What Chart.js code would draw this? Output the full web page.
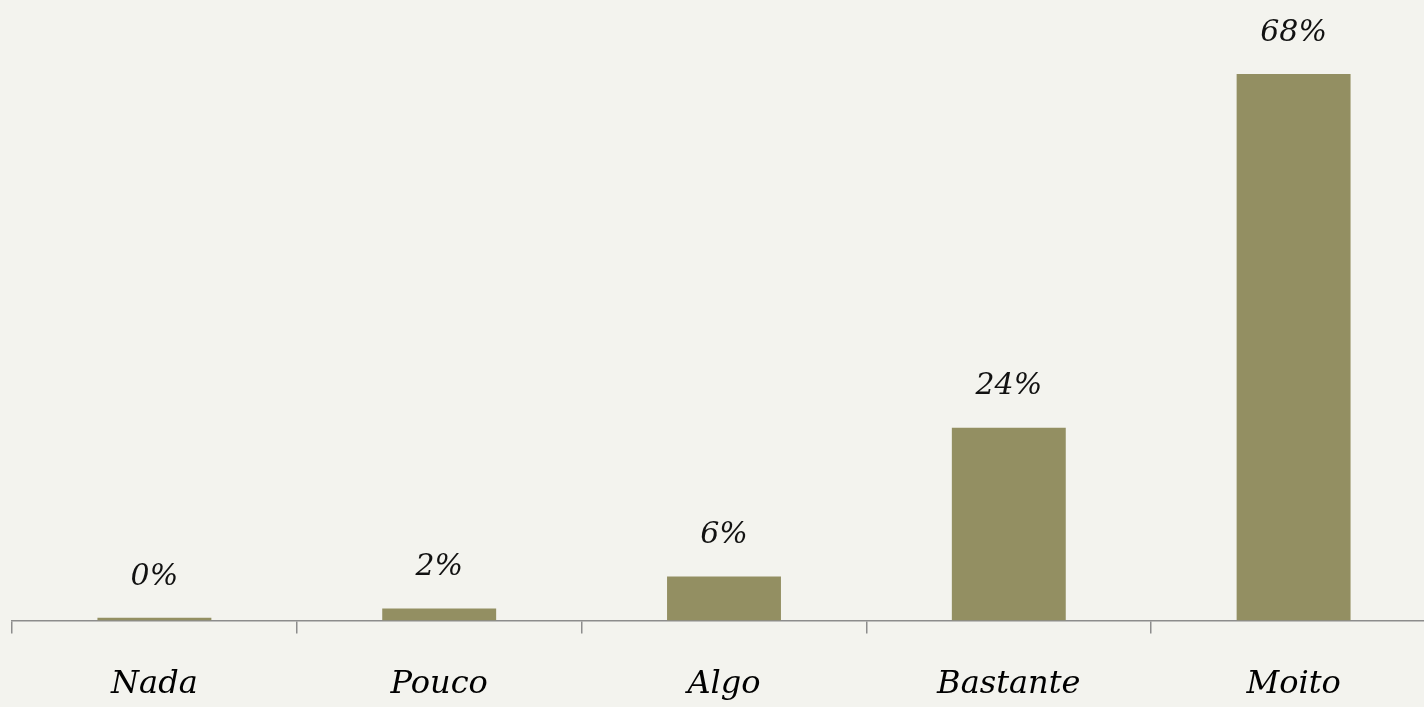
<!DOCTYPE html>
<html>
<head>
<meta charset="utf-8">
<script src="https://cdn.jsdelivr.net/npm/chart.js@4.4.7/dist/chart.umd.min.js"></script>
<style>
  html, body { margin: 0; padding: 0; background: #f3f3ee; overflow: hidden; }
  #wrap { width: 1436px; height: 736px; position: relative; }
</style>
</head>
<body>
<div id="wrap"><canvas id="chart"></canvas></div>
<script>
// answers and their share (bar heights, labels as printed)
const categories = ["Nada", "Pouco", "Algo", "Bastante", "Moito"];
const shares = [0.35, 1.5, 5.5, 24, 68];
const shareLabels = ["0%", "2%", "6%", "24%", "68%"];

const handFont = "'DejaVu Serif', serif";

// writes the percentage above each bar
const valueLabels = {
  id: "valueLabels",
  afterDatasetsDraw(chart) {
    const ctx = chart.ctx;
    const bars = chart.getDatasetMeta(0).data;
    ctx.save();
    ctx.font = "italic 30px " + handFont;
    ctx.fillStyle = "#111";
    ctx.textAlign = "center";
    ctx.textBaseline = "bottom";
    bars.forEach((bar, i) => {
      ctx.fillText(shareLabels[i], bar.x, bar.y - 26);
    });
    ctx.restore();
  },
};

new Chart(document.getElementById("chart"), {
  type: "bar",
  data: {
    labels: categories,
    datasets: [
      {
        data: shares,
        backgroundColor: "#938f62",
        borderWidth: 0,
        barPercentage: 0.4,
        categoryPercentage: 1,
      },
    ],
  },
  options: {
    responsive: true,
    maintainAspectRatio: false,
    animation: false,
    layout: { padding: { left: 12, right: 0, top: 0, bottom: 0 } },
    plugins: { legend: { display: false }, tooltip: { enabled: false } },
    scales: {
      x: {
        grid: {
          drawOnChartArea: false,
          drawTicks: true,
          tickLength: 13,
          color: "#8c8c8c",
          lineWidth: 1.5,
        },
        border: { color: "#8c8c8c", width: 1.5 },
        ticks: {
          color: "#000",
          padding: 32,
          font: { family: handFont, size: 32, style: "italic" },
        },
      },
      y: { display: false, min: 0, max: 77.2 },
    },
  },
  plugins: [valueLabels],
});
</script>
</body>
</html>
